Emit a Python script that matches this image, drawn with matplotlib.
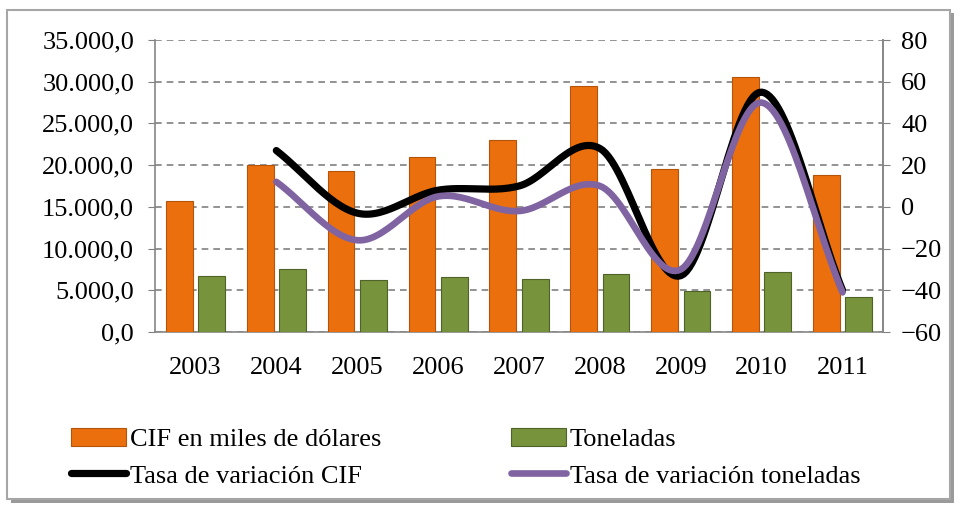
import numpy as np
import matplotlib.pyplot as plt
from matplotlib.patches import Rectangle
from matplotlib.ticker import FuncFormatter

plt.rcParams['font.family'] = ['Liberation Serif', 'DejaVu Serif']

years = ['2003', '2004', '2005', '2006', '2007', '2008', '2009', '2010', '2011']
cif = [15700, 20000, 19300, 21000, 23000, 29500, 19500, 30600, 18800]
toneladas = [6700, 7550, 6200, 6600, 6350, 6950, 4900, 7200, 4200]
# tasas de variacion (%) from 2004 on
tasa_cif = [27, -3, 8, 10, 28, -33, 55, -40]
tasa_ton = [12, -16, 5, -2, 10, -30, 50, -41]

orange = '#EC6F0E'
green = '#77933C'
purple = '#8064A2'


def smooth(x, y, n=30):
    # catmull-rom curve through the points, like excel "smoothed line"
    x = np.asarray(x, float)
    y = np.asarray(y, float)
    px = np.concatenate([[2 * x[0] - x[1]], x, [2 * x[-1] - x[-2]]])
    py = np.concatenate([[2 * y[0] - y[1]], y, [2 * y[-1] - y[-2]]])
    xs, ys = [], []
    t = np.linspace(0, 1, n)
    for i in range(1, len(px) - 2):
        for p, out in ((px, xs), (py, ys)):
            p0, p1, p2, p3 = p[i - 1], p[i], p[i + 1], p[i + 2]
            out.extend(0.5 * ((2 * p1) + (-p0 + p2) * t
                              + (2 * p0 - 5 * p1 + 4 * p2 - p3) * t ** 2
                              + (-p0 + 3 * p1 - 3 * p2 + p3) * t ** 3))
    return xs, ys


fig = plt.figure(figsize=(9.6, 5.11), dpi=100)

# outer frame with shadow
fig.patches.append(Rectangle((11 / 960, 1 - 503 / 511), 943 / 960, 490 / 511,
                             transform=fig.transFigure, facecolor='#9A9A9A',
                             edgecolor='none', zorder=0))
fig.patches.append(Rectangle((7 / 960, 1 - 499 / 511), 943 / 960, 489 / 511,
                             transform=fig.transFigure, facecolor='white',
                             edgecolor='#A6A6A6', lw=1.5, zorder=1))

ax = fig.add_axes([155 / 960, 1 - 332 / 511, 728 / 960, 292 / 511])
ax.set_zorder(2)
x = np.arange(len(years))
w = 0.33
ax.bar(x - 0.2, cif, w, color=orange, edgecolor='#B4540A', lw=0.8,
       label='CIF en miles de dólares', zorder=3)
ax.bar(x + 0.2, toneladas, w, color=green, edgecolor='#4F6228', lw=0.8,
       label='Toneladas', zorder=3)

ax.set_xlim(-0.5, len(years) - 0.5)
ax.set_ylim(0, 35000)
ax.set_yticks(np.arange(0, 35001, 5000))
ax.yaxis.set_major_formatter(FuncFormatter(
    lambda v, p: f'{v:,.1f}'.replace(',', 'X').replace('.', ',').replace('X', '.')))
ax.set_xticks(x)
ax.set_xticklabels(years)
ax.grid(axis='y', color='#808080', ls=(0, (4, 3)), lw=1.2, zorder=0)
ax.tick_params(axis='y', labelsize=19, length=5, color='#808080', pad=10)
ax.tick_params(axis='x', labelsize=19, length=0, pad=18)
for s in ['top']:
    ax.spines[s].set_visible(False)
for s in ['left', 'bottom', 'right']:
    ax.spines[s].set_color('#868686')
    ax.spines[s].set_linewidth(1.2)

ax2 = ax.twinx()
ax2.set_ylim(-60, 80)
ax2.set_yticks(np.arange(-60, 81, 20))
ax2.tick_params(axis='y', labelsize=19, length=5, color='#808080', pad=8)
for s in ['top', 'left', 'bottom']:
    ax2.spines[s].set_visible(False)
ax2.spines['right'].set_color('#868686')
ax2.spines['right'].set_linewidth(1.2)

xs, ys = smooth(x[1:], tasa_cif)
ax2.plot(xs, ys, color='black', lw=5.2, solid_capstyle='round',
         label='Tasa de variación CIF')
xs, ys = smooth(x[1:], tasa_ton)
ax2.plot(xs, ys, color=purple, lw=4.8, solid_capstyle='round',
         label='Tasa de variación toneladas')

h1, l1 = ax.get_legend_handles_labels()
h2, l2 = ax2.get_legend_handles_labels()
handles = [h1[0], h2[0], h1[1], h2[1]]
labels = [l1[0], l2[0], l1[1], l2[1]]
fig.legend(handles, labels, ncol=2, loc='upper left',
           bbox_to_anchor=(60 / 960, 1 - 417 / 511), frameon=False,
           fontsize=19, handlelength=2.1, handletextpad=0.15,
           columnspacing=4.9, labelspacing=0.5, borderaxespad=0)

fig.savefig('out.png', dpi=100)
